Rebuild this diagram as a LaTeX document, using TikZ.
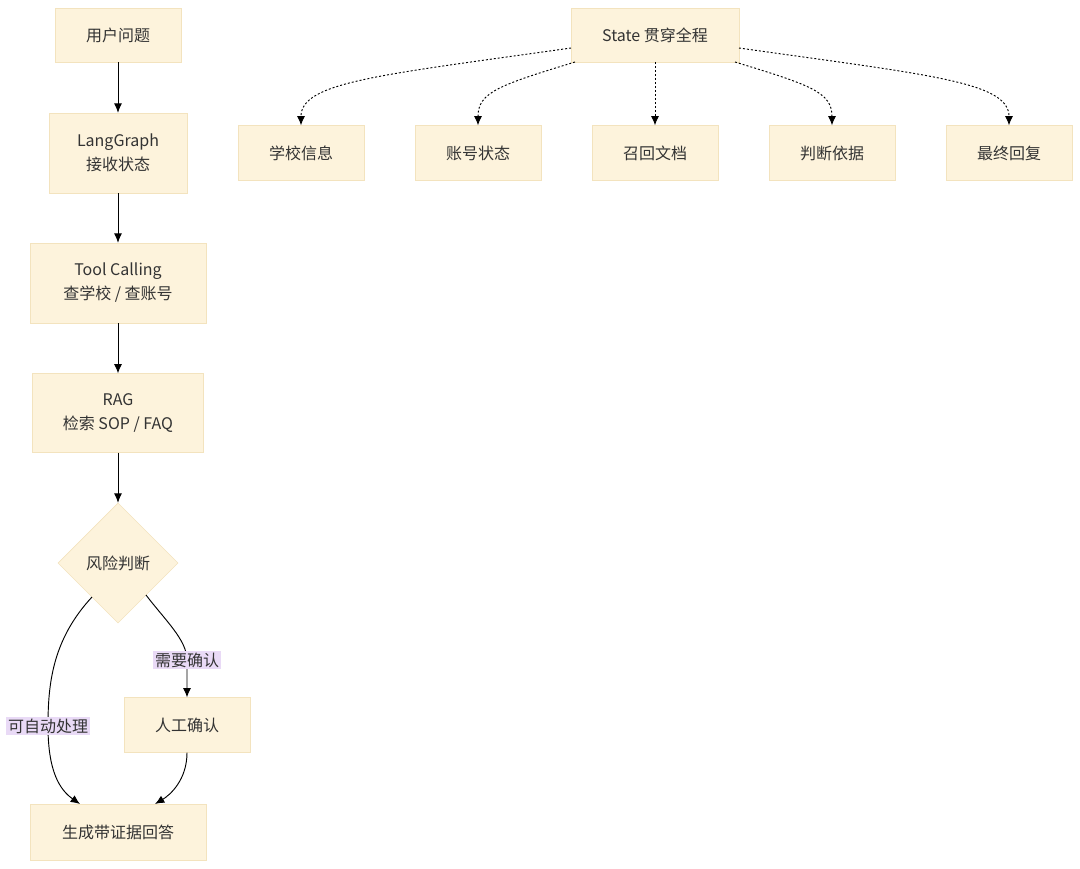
\documentclass[tikz,border=0pt]{standalone}
\usepackage{fontspec}
\setmainfont{Noto Sans CJK SC}
\usepackage{tikz}
\usetikzlibrary{arrows.meta,shapes.geometric}
\definecolor{boxfill}{HTML}{FDF3DC}
\definecolor{boxline}{HTML}{F3E3BE}
\definecolor{lblfill}{HTML}{E9DAF6}
\definecolor{txt}{HTML}{333333}
\tikzset{>={Latex[length=7pt,width=6pt]},
  box/.style={draw=boxline, fill=boxfill, text=txt, align=center, inner sep=0pt,
    font=\fontsize{12}{18}\selectfont},
  lbl/.style={fill=lblfill, text=txt, inner sep=1.5pt, font=\fontsize{12}{14}\selectfont},
  flow/.style={->, line width=0.7pt, black},
  statelink/.style={->, line width=0.7pt, black, dash pattern=on 1.5pt off 1.5pt}}

\begin{document}
\begin{tikzpicture}[x=0.75pt, y=-0.75pt]
    \useasboundingbox (0,0) rectangle (1080,868);
    % main flow
    \node[box, minimum width=94.5pt, minimum height=40.5pt] (userq) at (118,35) {用户问题};
    \node[box, minimum width=103.5pt, minimum height=60pt] (lang) at (118,153) {LangGraph\\接收状态};
    \node[box, minimum width=132pt, minimum height=60pt] (tool) at (118,283) {Tool Calling\\查学校 / 查账号};
    \node[box, minimum width=128pt, minimum height=59pt] (rag) at (118,413) {RAG\\检索 SOP / FAQ};
    \node[box, diamond, minimum width=90pt, minimum height=90pt] (risk) at (118,563) {风险判断};
    \node[box, minimum width=94.5pt, minimum height=41pt] (manual) at (187,725) {人工确认};
    \node[box, minimum width=132pt, minimum height=42pt] (answer) at (118,832) {生成带证据回答};
    \draw[flow] (userq) -- (lang);
    \draw[flow] (lang) -- (tool);
    \draw[flow] (tool) -- (rag);
    \draw[flow] (rag) -- (risk);
    \coordinate (auto) at (48,726);
    \coordinate (need) at (187,660);
    \draw[flow] (92,597) .. controls (52,640) and (48,685) .. (auto)
          .. controls (48,772) and (60,790) .. (80,804);
    \draw[flow] (146,595) .. controls (165,620) and (187,640) .. (need) -- (manual.north);
    \draw[flow] (manual.south) .. controls (187,780) and (170,795) .. (155,804);
    \node[lbl] (autolbl) at (auto) {可自动处理};
    \node[lbl] (needlbl) at (need) {需要确认};
    % state
    \node[box, minimum width=126pt, minimum height=40.5pt] (state) at (655,35) {State 贯穿全程};
    \node[box, minimum width=94.5pt, minimum height=41pt] (school) at (301,153) {学校信息};
    \node[box, minimum width=94.5pt, minimum height=41pt] (account) at (478,153) {账号状态};
    \node[box, minimum width=94.5pt, minimum height=41pt] (recall) at (655,153) {召回文档};
    \node[box, minimum width=94.5pt, minimum height=41pt] (basis) at (832,153) {判断依据};
    \node[box, minimum width=94.5pt, minimum height=41pt] (reply) at (1009,153) {最终回复};
    \draw[statelink] (571,48) .. controls (380,75) and (301,82) .. (school.north);
    \draw[statelink] (575,62) .. controls (500,85) and (478,92) .. (account.north);
    \draw[statelink] (state) -- (recall);
    \draw[statelink] (735,62) .. controls (810,85) and (832,92) .. (basis.north);
    \draw[statelink] (739,48) .. controls (930,75) and (1009,82) .. (reply.north);
\end{tikzpicture}
\end{document}
